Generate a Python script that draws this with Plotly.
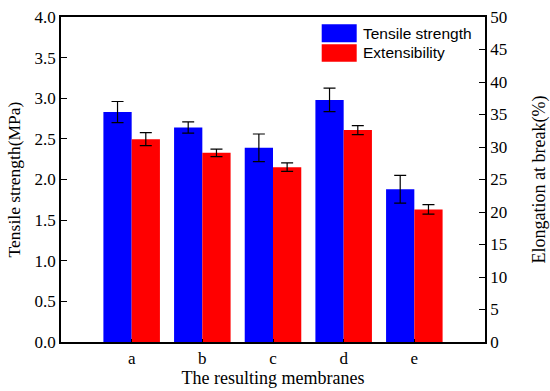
import plotly.graph_objects as go

categories = ["a", "b", "c", "d", "e"]
tensile = [2.83, 2.64, 2.39, 2.98, 1.88]
tensile_err = [0.13, 0.07, 0.17, 0.145, 0.17]
extens = [31.2, 29.1, 26.9, 32.6, 20.4]
extens_err = [1.0, 0.57, 0.65, 0.7, 0.73]
left_ticks = [0, 0.5, 1.0, 1.5, 2.0, 2.5, 3.0, 3.5, 4.0]
right_ticks = [0, 5, 10, 15, 20, 25, 30, 35, 40, 45, 50]

serif = "Liberation Serif, Times New Roman, serif"
sans = "Liberation Sans, Arial, sans-serif"

fig = go.Figure()
fig.add_trace(go.Bar(
    x=categories, y=tensile, name="Tensile strength",
    marker=dict(color="#0000FF", line=dict(width=0)),
    width=0.4, offset=-0.4, yaxis="y",
    error_y=dict(type="data", array=tensile_err, color="black", thickness=1.2, width=6),
    showlegend=False,
))
fig.add_trace(go.Bar(
    x=categories, y=extens, name="Extensibility",
    marker=dict(color="#FF0000", line=dict(width=0)),
    width=0.4, offset=0.0, yaxis="y2",
    error_y=dict(type="data", array=extens_err, color="black", thickness=1.2, width=6),
    showlegend=False,
))

W, H = 550, 391
L, T = 61, 17
pw, ph = 424, 325
R = W - L - pw
B = H - T - ph

def px(x):
    return (x - L) / pw

def py(y):
    return (T + ph - y) / ph

shapes = [
    dict(type="rect", xref="paper", yref="paper", x0=px(321.7), x1=px(356.7),
         y0=py(42.3), y1=py(24.3), fillcolor="#0000FF", line=dict(width=0)),
    dict(type="rect", xref="paper", yref="paper", x0=px(321.7), x1=px(356.7),
         y0=py(61.7), y1=py(44.3), fillcolor="#FF0000", line=dict(width=0)),
]
annotations = [
    dict(text="Tensile strength", xref="paper", yref="paper", x=px(361), y=py(33.5),
         xanchor="left", yanchor="middle", showarrow=False,
         font=dict(family=sans, size=15.5, color="black")),
    dict(text="Extensibility", xref="paper", yref="paper", x=px(361), y=py(53),
         xanchor="left", yanchor="middle", showarrow=False,
         font=dict(family=sans, size=15.5, color="black")),
]

fig.update_layout(
    width=W, height=H,
    margin=dict(l=L, r=R, t=T, b=B, pad=0, autoexpand=False),
    paper_bgcolor="white", plot_bgcolor="white",
    font=dict(family=serif, size=16, color="black"),
    shapes=shapes, annotations=annotations,
    barmode="overlay",
    xaxis=dict(
        range=[-1, 5], showline=True, linecolor="black", linewidth=1.5, mirror=True,
        ticks="inside", ticklen=3, tickcolor="black", showgrid=False, zeroline=False,
        tickfont=dict(family=serif, size=17), automargin=False,
        title=dict(text="The resulting membranes", font=dict(family=serif, size=18), standoff=1),
    ),
    yaxis=dict(
        range=[0, 4], tickvals=left_ticks, tickformat=".1f",
        showline=True, linecolor="black", linewidth=1.5, automargin=False,
        ticks="inside", ticklen=6, tickcolor="black", showgrid=False, zeroline=False,
        tickfont=dict(family=serif, size=17), ticklabeloverflow="allow",
        title=dict(text="Tensile strength(MPa)", font=dict(family=serif, size=17.5), standoff=9),
    ),
    yaxis2=dict(
        range=[0, 50], tickvals=right_ticks, overlaying="y", side="right",
        showline=True, linecolor="black", linewidth=1.5, automargin=False,
        ticks="inside", ticklen=6, tickcolor="black", showgrid=False, zeroline=False,
        tickfont=dict(family=serif, size=17), ticklabeloverflow="allow",
        title=dict(text="Elongation at break(%)", font=dict(family=serif, size=18), standoff=27),
    ),
)

fig.write_html(
    "out.html",
    config={"displayModeBar": False},
    post_script="document.body.style.margin='0';document.body.style.overflow='hidden';",
)
